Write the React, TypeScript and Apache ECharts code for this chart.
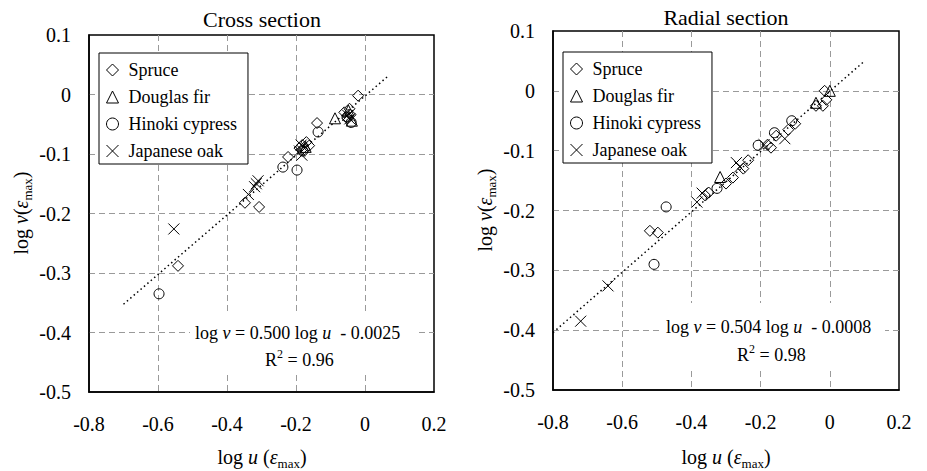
import React, { useEffect, useRef } from 'react';
import * as echarts from 'echarts';

const FONT = "'Liberation Serif', 'Times New Roman', Times, serif";

const speciesNames = ['Spruce', 'Douglas fir', 'Hinoki cypress', 'Japanese oak'];
const xTicks = { min: -0.8, max: 0.2, interval: 0.2 };
const yTicks = { min: -0.5, max: 0.1, interval: 0.1 };

// Cross section
const crossSpruce = [
  [-0.542, -0.288], [-0.348, -0.182], [-0.307, -0.189], [-0.223, -0.105],
  [-0.19, -0.09], [-0.182, -0.085], [-0.175, -0.092], [-0.17, -0.08], [-0.162, -0.086],
  [-0.139, -0.048], [-0.06, -0.03], [-0.05, -0.04], [-0.042, -0.034], [-0.045, -0.024],
  [-0.02, -0.002],
];
const crossDouglas = [
  [-0.087, -0.04], [-0.172, -0.088], [-0.048, -0.027], [-0.038, -0.044],
];
const crossHinoki = [
  [-0.597, -0.335], [-0.238, -0.122], [-0.197, -0.127], [-0.136, -0.063],
  [-0.18, -0.095], [-0.052, -0.038], [-0.04, -0.047],
];
const crossOak = [
  [-0.554, -0.226], [-0.31, -0.145], [-0.315, -0.15], [-0.32, -0.155], [-0.338, -0.168],
  [-0.19, -0.095], [-0.183, -0.102], [-0.185, -0.085], [-0.05, -0.035], [-0.044, -0.041],
];
const crossFit = [[-0.7, -0.3525], [0.07, 0.0325]];

// Radial section
const radialSpruce = [
  [-0.52, -0.234], [-0.497, -0.237], [-0.36, -0.175], [-0.35, -0.17],
  [-0.3, -0.155], [-0.28, -0.145], [-0.25, -0.13], [-0.236, -0.116],
  [-0.18, -0.09], [-0.17, -0.095], [-0.155, -0.075], [-0.12, -0.065], [-0.1, -0.055],
  [-0.04, -0.025], [-0.02, -0.025], [-0.01, -0.015], [-0.015, 0.0],
];
const radialDouglas = [
  [-0.317, -0.144], [-0.04, -0.02], [0.0, 0.0],
];
const radialHinoki = [
  [-0.508, -0.29], [-0.473, -0.194], [-0.326, -0.163], [-0.207, -0.091],
  [-0.16, -0.07], [-0.11, -0.05],
];
const radialOak = [
  [-0.72, -0.385], [-0.641, -0.326], [-0.384, -0.186], [-0.369, -0.171],
  [-0.27, -0.12], [-0.26, -0.127], [-0.19, -0.09], [-0.13, -0.08],
];
const radialFit = [[-0.8, -0.404], [0.1, 0.0496]];

const X_PATH = 'path://M0,0L10,10M10,0L0,10';

const rich = (size: number) => ({
  n: { fontFamily: FONT, fontSize: size, fill: '#000', color: '#000', lineHeight: size + 6 },
  i: { fontFamily: FONT, fontSize: size, fontStyle: 'italic', fill: '#000', color: '#000', lineHeight: size + 6 },
  s: { fontFamily: FONT, fontSize: Math.round(size * 0.65), fill: '#000', color: '#000', lineHeight: 14, verticalAlign: 'bottom' },
  sup: { fontFamily: FONT, fontSize: Math.round(size * 0.65), fill: '#000', color: '#000', lineHeight: 12, verticalAlign: 'top' },
});

function text(x: number, y: number, t: string, size: number, align: string, extra: any = {}) {
  return {
    type: 'text', x, y, z: 60, ...extra,
    style: { text: t, rich: rich(size), fontFamily: FONT, fontSize: size, fill: '#000', align, verticalAlign: 'middle' },
  };
}

const fmt = (v: number) => {
  const r = Math.round(v * 10) / 10;
  return '{t|' + (r === 0 ? '0' : String(r)) + '}';
};

export default function App() {
  const ref = useRef<HTMLDivElement>(null);
  useEffect(() => {
    if (!ref.current) return;
    const chart = echarts.init(ref.current, undefined, { renderer: 'svg' });
    const grids = [
      { left: 89, top: 35, width: 345, height: 357 },
      { left: 553, top: 31, width: 346, height: 359 },
    ];
    const axisCommon = {
      type: 'value',
      axisLine: { show: true, onZero: false, lineStyle: { color: '#000', width: 1.5 } },
      axisTick: { show: false },
      splitLine: { show: true, showMinLine: false, showMaxLine: false, lineStyle: { color: '#9a9a9a', type: [6, 4], width: 1 } },
    };
    const labelStyle = {
      fontFamily: FONT, fontSize: 20, color: '#000', formatter: fmt,
      rich: { t: { fontFamily: FONT, fontSize: 20, color: '#000' } },
    };
    const xAxes = [0, 1].map((i) => ({
      ...axisCommon, gridIndex: i, ...xTicks,
      axisLabel: { ...labelStyle, margin: 22 },
    }));
    const yAxes = [0, 1].map((i) => ({
      ...axisCommon, gridIndex: i, ...yTicks,
      axisLabel: { ...labelStyle, margin: 18 },
    }));
    const sc = (name: string, data: number[][], symbol: string, size: number, idx: number) => ({
      type: 'scatter', name, data, xAxisIndex: idx, yAxisIndex: idx, symbol, symbolSize: size, z: 3,
      itemStyle: { color: 'rgba(255,255,255,0)', borderColor: '#000', borderWidth: 1, opacity: 1 },
      emphasis: { disabled: true },
    });
    const fit = (data: number[][], idx: number) => ({
      type: 'line', data, xAxisIndex: idx, yAxisIndex: idx, symbol: 'none', z: 2,
      lineStyle: { color: '#000', width: 1.5, type: [1.5, 3] }, silent: true,
    });
    const sets = [
      [crossSpruce, crossDouglas, crossHinoki, crossOak],
      [radialSpruce, radialDouglas, radialHinoki, radialOak],
    ];
    const symbols = ['diamond', 'triangle', 'circle', X_PATH];
    const sizes = [11, 11, 10, 11];
    const series: any[] = [];
    sets.forEach((s, idx) => {
      s.forEach((d, k) => series.push(sc(speciesNames[k], d, symbols[k], sizes[k], idx)));
    });
    series.push(fit(crossFit, 0));
    series.push(fit(radialFit, 1));

    const legend = (left: number, top: number) => ({
      orient: 'vertical', left, top, data: speciesNames,
      itemWidth: 12, itemHeight: 12, itemGap: 9,
      padding: [8, 11, 4, 7],
      backgroundColor: '#fff', borderColor: '#000', borderWidth: 1, borderRadius: 0,
      selectedMode: false,
      itemStyle: { color: 'rgba(255,255,255,0)', borderColor: '#000', borderWidth: 1 },
      textStyle: { fontFamily: FONT, fontSize: 18, color: '#000', lineHeight: 18, padding: [0, 0, 0, 5] },
    });

    const yTitle = '{n|log }{i|v}{n|(}{i|ε}{s|max}{n|)}';
    const xTitle = '{n|log }{i|u}{n| (}{i|ε}{s|max}{n|)}';

    chart.setOption({
      animation: false,
      textStyle: { fontFamily: FONT },
      grid: grids.map((g) => ({ ...g, show: true, borderColor: '#000', borderWidth: 1.5, backgroundColor: '#fff' })),
      xAxis: xAxes,
      yAxis: yAxes,
      legend: [legend(99, 53), legend(563, 52)],
      series,
      graphic: [
        text(262, 19, '{n|Cross section}', 22, 'center'),
        text(726, 17, '{n|Radial section}', 22, 'center'),
        text(262, 457, xTitle, 20, 'center'),
        text(726, 457, xTitle, 20, 'center'),
        text(21, 213, yTitle, 20, 'center', { rotation: Math.PI / 2 }),
        text(485, 210, yTitle, 20, 'center', { rotation: Math.PI / 2 }),
        { type: 'rect', z: 55, shape: { x: 190, y: 313, width: 228, height: 62 }, style: { fill: '#fff' } },
        { type: 'rect', z: 55, shape: { x: 660, y: 303, width: 225, height: 68 }, style: { fill: '#fff' } },
        text(195, 333, '{n|log }{i|v}{n| = 0.500 log }{i|u}{n|  - 0.0025}', 18, 'left'),
        text(265, 360, '{n|R}{sup|2}{n| = 0.96}', 18, 'left'),
        text(666, 327, '{n|log }{i|v}{n| = 0.504 log }{i|u}{n|  - 0.0008}', 18, 'left'),
        text(737, 355, '{n|R}{sup|2}{n| = 0.98}', 18, 'left'),
      ],
    });
    return () => chart.dispose();
  }, []);
  return <div ref={ref} style={{ position: 'fixed', left: 0, top: 0, width: 927, height: 471, background: '#fff' }} />;
}
